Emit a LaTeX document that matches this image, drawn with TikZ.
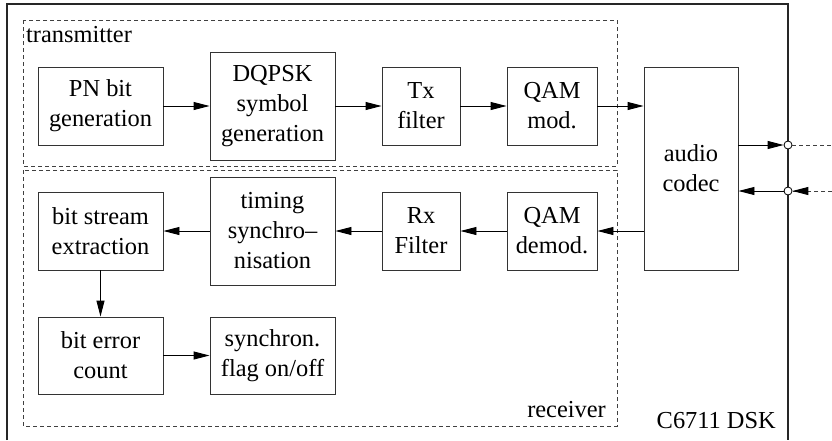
\documentclass[tikz,border=0pt]{standalone}
\usepackage{fontspec}
\setmainfont{Liberation Serif}
\usetikzlibrary{arrows.meta}
\begin{document}
\begin{tikzpicture}[x=1pt,y=-1pt,
  blk/.style={draw=black!80,line width=0.9pt,align=center,inner sep=0pt,font=\fontsize{24.4}{30}\selectfont},
  lbl/.style={inner sep=0pt,font=\fontsize{24.4}{30}\selectfont},
  grp/.style={draw=black!75,line width=0.9pt,dash pattern=on 4pt off 3pt},
  arr/.style={draw=black,line width=0.9pt,-{Triangle[length=16pt,width=8pt]}},
  port/.style={circle,draw=black,fill=white,line width=0.8pt,inner sep=0pt,minimum size=8pt}]
\useasboundingbox (0,0) rectangle (832,440);
% outer frame (C6711 DSK)
\draw[line width=1.1pt,black!85] (7,440) -- (7,4) -- (788,4) -- (788,440);
% groups
\draw[grp] (23,20) rectangle (617,166);
\draw[grp] (23,170) rectangle (617,426);
\node[lbl,anchor=base west] (ttx) at (26,42) {transmitter};
\node[lbl,anchor=base east] (trx) at (606,417) {receiver};
\node[lbl,anchor=base east] (tdsk) at (776,428) {C6711 DSK};
% transmitter blocks
\node[blk,minimum width=125pt,minimum height=78pt] (pn) at (100.5,106) {PN bit\\generation};
\node[blk,minimum width=125pt,minimum height=108pt] (dq) at (272.5,106) {DQPSK\\symbol\\generation};
\node[blk,minimum width=78pt,minimum height=78pt] (tx) at (421,106) {Tx\\filter};
\node[blk,minimum width=90pt,minimum height=78pt] (qm) at (552,106) {QAM\\mod.};
\node[blk,minimum width=94pt,minimum height=203pt] (codec) at (691,168.5) {audio\\codec};
% receiver blocks
\node[blk,minimum width=125pt,minimum height=78pt] (bs) at (100.5,231) {bit stream\\extraction};
\node[blk,minimum width=125pt,minimum height=108pt] (tim) at (272.5,231) {timing\\synchro--\\nisation};
\node[blk,minimum width=78pt,minimum height=78pt] (rx) at (421,231) {Rx\\Filter};
\node[blk,minimum width=90pt,minimum height=78pt] (qd) at (552,231) {QAM\\demod.};
\node[blk,minimum width=125pt,minimum height=77pt] (be) at (100.5,355.5) {bit error\\count};
\node[blk,minimum width=125pt,minimum height=77pt] (sf) at (272.5,355.5) {synchron.\\flag on/off};
% ports
\node[port] (pout) at (788,145) {};
\node[port] (pin) at (788,191) {};
\coordinate (eout) at (832,145);
\coordinate (ein) at (832,191);
% connectors
\draw[arr] (pn) -- (dq);
\draw[arr] (dq) -- (tx);
\draw[arr] (tx) -- (qm);
\draw[arr] (qm.east) -- (qm.east -| codec.west);
\draw[arr] (pout -| codec.east) -- (pout);
\draw[grp] (pout) -- (eout);
\draw[grp] (ein) -- (pin.east);
\draw[line width=0.9pt,-{Triangle[length=16pt,width=8pt]}] ([xshift=-1pt]ein -| pin.east) ++(10,0) -- (pin.east);
\draw[arr] (pin) -- (pin -| codec.east);
\draw[arr] (codec.west |- qd) -- (qd);
\draw[arr] (qd) -- (rx);
\draw[arr] (rx) -- (tim);
\draw[arr] (tim.west |- bs) -- (bs);
\draw[arr] (bs) -- (be);
\draw[arr] (be) -- (sf);
\end{tikzpicture}
\end{document}
